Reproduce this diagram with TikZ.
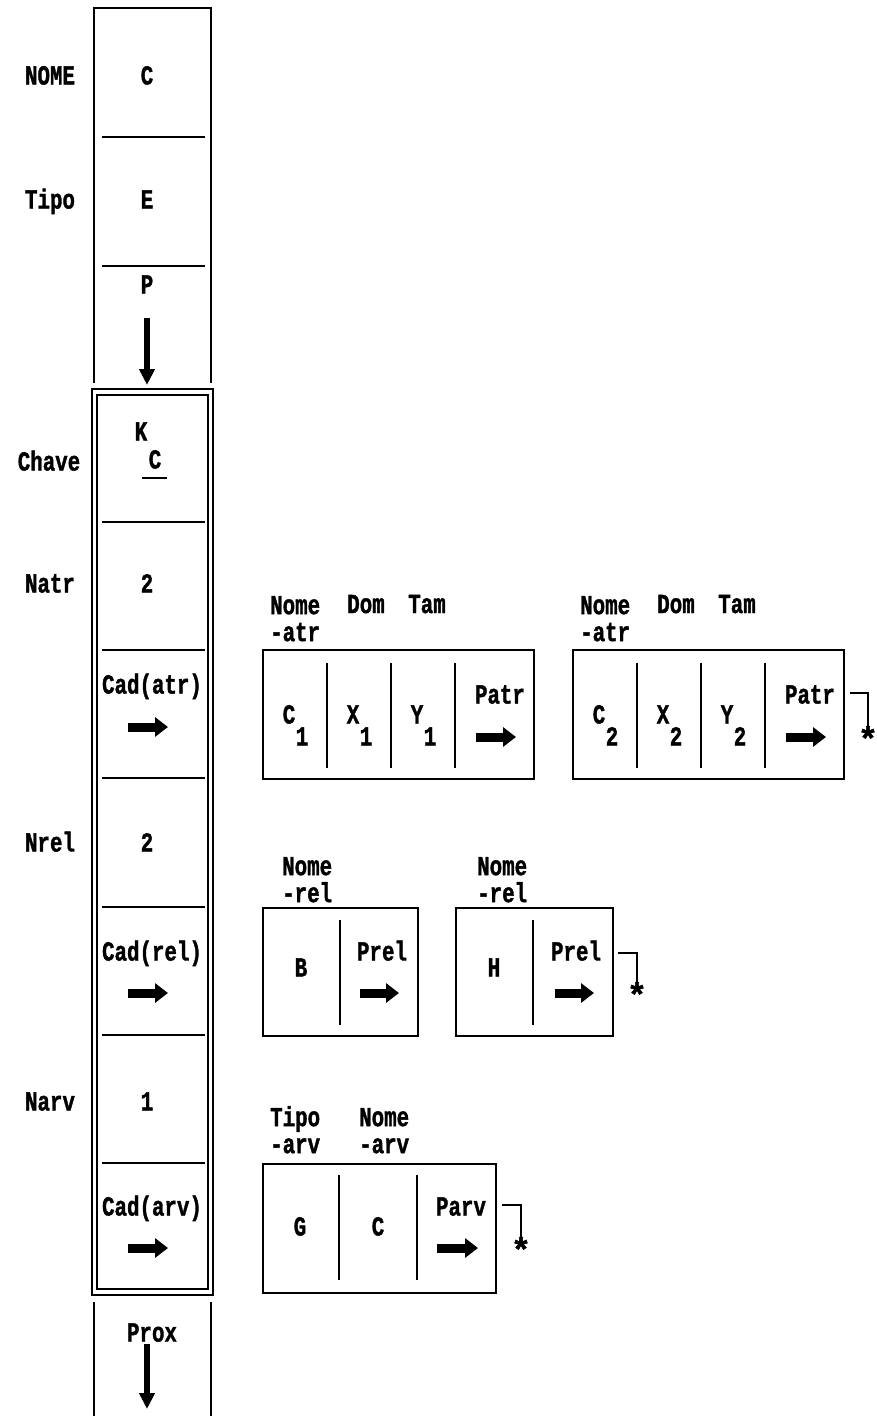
\documentclass[tikz,border=0pt]{standalone}
\usepackage{fontspec}
\usepackage{graphicx}
\usetikzlibrary{arrows.meta}
\newfontfamily\mfont{Liberation Mono}[BoldFeatures={FakeBold=1.6}]
\newcommand\tx[1]{\scalebox{1}[1.32]{#1}}
\newcommand\hx[1]{\scalebox{1}[1.32]{\vphantom{Tip}#1}}
\newcommand\bigstar{\scalebox{1.6}[1.6]{*}}
\tikzset{
  t/.style={anchor=base, inner sep=0pt, font=\mfont\bfseries\fontsize{20.8pt}{22pt}\selectfont},
  hdr/.style={anchor=north west, align=left, inner sep=0pt, font=\mfont\bfseries\fontsize{20.8pt}{27pt}\selectfont},
  ln/.style={line width=1.6pt},
  cellbox/.style={draw, line width=1.6pt, anchor=north west, inner sep=0pt},
  fatR/.style={line width=9pt, -{Triangle[length=13pt,width=19pt]}},
  fatD/.style={line width=6.5pt, -{Triangle[length=16pt,width=15pt]}},
  brk/.style={line width=1.4pt},
  startxt/.style={anchor=north, inner sep=0pt, font=\mfont\bfseries\fontsize{20.8pt}{24pt}\selectfont},
}
\begin{document}
\begin{tikzpicture}[x=1pt,y=-1pt]
\useasboundingbox (0,0) rectangle (877,1416);
\fill[white] (0,0) rectangle (877,1416);

% ---------- main column ----------
\draw[ln] (94,383) -- (94,8) -- (211,8) -- (211,383);
\draw[ln] (102,137) -- (205,137);
\draw[ln] (102,266) -- (205,266);
\draw[ln] (92,389) rectangle (213,1295);
\draw[ln] (97,395) rectangle (208,1289);
\foreach \yy in {522,650,778,907,1035,1163}
  \draw[ln] (102,\yy) -- (205,\yy);
\draw[ln] (94,1302) -- (94,1418);
\draw[ln] (211,1302) -- (211,1418);

% labels on the left
\node[t] (lNome)  at (50,84.5)   {\tx{NOME}};
\node[t] (lTipo)  at (50,208.5)  {\tx{Tipo}};
\node[t] (lChave) at (49,470.5)  {\tx{Chave}};
\node[t] (lNatr)  at (50,592.5)  {\tx{Natr}};
\node[t] (lNrel)  at (50,851.5)  {\tx{Nrel}};
\node[t] (lNarv)  at (50,1110.5) {\tx{Narv}};

% values in the column
\node[t] (vC) at (147,84.5)  {\tx{C}};
\node[t] (vE) at (147,208.5) {\tx{E}};
\node[t] (vP) at (147,293.5) {\tx{P}};
\coordinate (pA) at (147,318);
\coordinate (pB) at (147,385);
\draw[fatD] (pA) -- (pB);

\node[t] (vK)  at (141,440.5) {\tx{K}};
\node[t] (vKc) at (155,468.5) {\tx{C}};
\coordinate (uA) at (142,478);
\coordinate (uB) at (167,478);
\draw[ln] (uA) -- (uB);

\node[t] (vNatr) at (147,592.5) {\tx{2}};
\node[t] (vCatr) at (152,693.5) {\tx{Cad(atr)}};
\coordinate (caA) at (128,727); \coordinate (caB) at (168,727);
\draw[fatR] (caA) -- (caB);

\node[t] (vNrel) at (147,851.5) {\tx{2}};
\node[t] (vCrel) at (152,960.5) {\tx{Cad(rel)}};
\coordinate (crA) at (128,993); \coordinate (crB) at (168,993);
\draw[fatR] (crA) -- (crB);

\node[t] (vNarv) at (147,1110.5) {\tx{1}};
\node[t] (vCarv) at (152,1215.5) {\tx{Cad(arv)}};
\coordinate (cvA) at (128,1248); \coordinate (cvB) at (168,1248);
\draw[fatR] (cvA) -- (cvB);

\node[t] (vProx) at (152,1341.5) {\tx{Prox}};
\coordinate (pxA) at (147,1344);
\coordinate (pxB) at (147,1409);
\draw[fatD] (pxA) -- (pxB);

% ---------- attribute list ----------
\foreach \dx/\n/\s in {0/1/1, 310/2/2} {
  \node[cellbox, minimum width=271pt, minimum height=129pt] (atr\n) at (262+\dx,649) {};
  \foreach \xx in {327,391,455}
    \draw[ln] (\xx+\dx,663) -- (\xx+\dx,768);
  \node[hdr] (hN\n) at (270+\dx,594) {\hx{Nome}\\\tx{-atr}};
  \node[t]  (hD\n) at (366+\dx,613)   {\tx{Dom}};
  \node[t]  (hT\n) at (427+\dx,613)   {\tx{Tam}};
  \node[t] (c\n)  at (289+\dx,723.5) {\tx{C}};
  \node[t] (cs\n) at (302+\dx,745.5) {\tx{\s}};
  \node[t] (x\n)  at (353+\dx,723.5) {\tx{X}};
  \node[t] (xs\n) at (366+\dx,745.5) {\tx{\s}};
  \node[t] (y\n)  at (417+\dx,723.5) {\tx{Y}};
  \node[t] (ys\n) at (430+\dx,745.5) {\tx{\s}};
  \node[t] (pa\n) at (500+\dx,703.5) {\tx{Patr}};
  \coordinate (paA\n) at (476+\dx,737);
  \coordinate (paB\n) at (516+\dx,737);
  \draw[fatR] (paA\n) -- (paB\n);
}
\coordinate (atrEnd) at (850,693);
\node[startxt] (star1) at (868,726) {\bigstar};
\draw[brk] (atrEnd) -| (star1.north);

% ---------- relationship list ----------
\node[cellbox, minimum width=155pt, minimum height=128pt] (rel1) at (262,907) {};
\draw[ln] (340,920) -- (340,1025);
\node[hdr] (rhN1) at (282,855) {\hx{Nome}\\\tx{-rel}};
\node[t] (rB) at (301,976.5) {\tx{B}};
\node[t] (rP1) at (382,960.5) {\tx{Prel}};
\coordinate (rpA1) at (360,993); \coordinate (rpB1) at (399,993);
\draw[fatR] (rpA1) -- (rpB1);

\node[cellbox, minimum width=157pt, minimum height=128pt] (rel2) at (455,907) {};
\draw[ln] (533,920) -- (533,1025);
\node[hdr] (rhN2) at (477,855) {\hx{Nome}\\\tx{-rel}};
\node[t] (rH) at (494,976.5) {\tx{H}};
\node[t] (rP2) at (576,960.5) {\tx{Prel}};
\coordinate (rpA2) at (555,993); \coordinate (rpB2) at (594,993);
\draw[fatR] (rpA2) -- (rpB2);

\coordinate (relEnd) at (618,953);
\node[startxt] (star2) at (637,982) {\bigstar};
\draw[brk] (relEnd) -| (star2.north);

% ---------- tree list ----------
\node[cellbox, minimum width=233pt, minimum height=129pt] (arv1) at (262,1163) {};
\draw[ln] (339,1175) -- (339,1280);
\draw[ln] (417,1175) -- (417,1280);
\node[hdr] (ahT) at (270,1106) {\hx{Tipo}\\\tx{-arv}};
\node[hdr] (ahN) at (359,1106) {\hx{Nome}\\\tx{-arv}};
\node[t] (aG) at (300,1235.5) {\tx{G}};
\node[t] (aC) at (378,1235.5) {\tx{C}};
\node[t] (aP) at (461,1215.5) {\tx{Parv}};
\coordinate (apA) at (437,1248); \coordinate (apB) at (478,1248);
\draw[fatR] (apA) -- (apB);

\coordinate (arvEnd) at (502,1205);
\node[startxt] (star3) at (521,1237) {\bigstar};
\draw[brk] (arvEnd) -| (star3.north);
\end{tikzpicture}
\end{document}
